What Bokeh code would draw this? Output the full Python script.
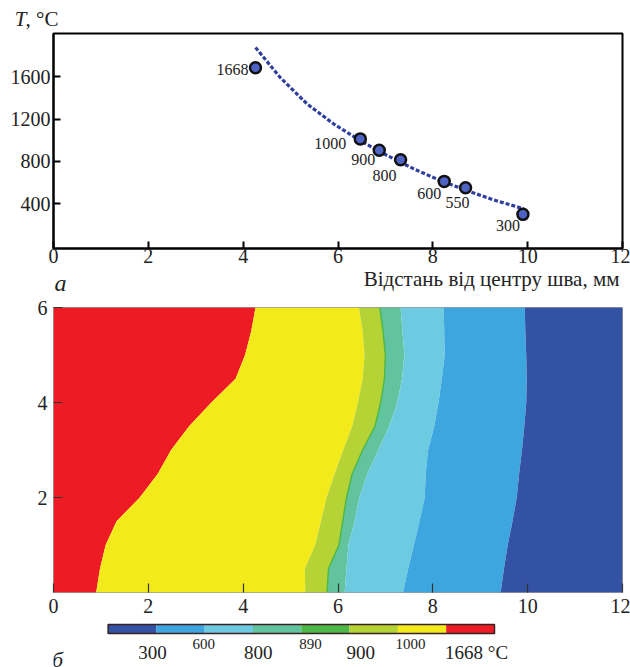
from bokeh.plotting import figure
from bokeh.layouts import column
from bokeh.models import Range1d, FixedTicker, ColumnDataSource, LinearAxis
from bokeh.core.properties import value
from bokeh.embed import file_html
from bokeh.resources import INLINE

SERIF = "Liberation Serif"

# ---------------- data (a): temperature vs distance ----------------
dist_mm = [4.26, 6.47, 6.87, 7.32, 8.24, 8.69, 9.90]
temp_c = [1685, 1012, 905, 815, 610, 550, 298]
point_labels = ["1668", "1000", "900", "800", "600", "550", "300"]
fit_x = [4.26, 4.78, 5.35, 5.91, 6.47, 7.04, 7.60, 8.16, 8.72, 9.28, 9.92]
fit_t = [1877, 1593, 1342, 1153, 995, 854, 728, 617, 523, 435, 350]
x_ticks_a = [0, 2, 4, 6, 8, 10, 12]
y_ticks_a = [400, 800, 1200, 1600]

# ---------------- data (б): isotherm boundaries (x, mm) at heights map_y ----------------
map_y = [0, 0.5, 1.0, 1.5, 2.0, 2.5, 3.0, 3.5, 4.0, 4.5, 5.0, 5.5, 6.0]
iso_1668 = [0.90, 0.98, 1.10, 1.33, 1.82, 2.20, 2.48, 2.86, 3.33, 3.84, 4.04, 4.17, 4.26]
iso_1000 = [5.31, 5.30, 5.52, 5.64, 5.76, 5.93, 6.11, 6.30, 6.42, 6.52, 6.56, 6.52, 6.44]
iso_900 = [5.77, 5.80, 6.02, 6.10, 6.18, 6.30, 6.52, 6.78, 6.90, 6.98, 7.00, 6.95, 6.88]
iso_800 = [6.14, 6.18, 6.22, 6.35, 6.45, 6.62, 6.85, 7.08, 7.25, 7.35, 7.40, 7.36, 7.32]
iso_600 = [7.37, 7.48, 7.60, 7.72, 7.83, 7.85, 7.90, 8.03, 8.12, 8.19, 8.25, 8.24, 8.23]
iso_300 = [9.43, 9.50, 9.58, 9.68, 9.77, 9.82, 9.88, 9.93, 9.97, 9.98, 9.97, 9.95, 9.94]
x_ticks_b = [0, 2, 4, 6, 8, 10, 12]
y_ticks_b = [2, 4, 6]

# ---------------- colour scale ----------------
scale_colors = ["#3452a4", "#3ea6df", "#6ccbe0", "#62c49e", "#4db848", "#b5d334", "#f2ea1a", "#ed1c24"]
scale_big = ["300", "800", "900", "1668 °C"]
scale_big_pos = [0.92, 3.11, 5.23, 7.63]
scale_small = ["600", "890", "1000"]
scale_small_pos = [1.98, 4.19, 6.26]

W = 630
INK = "#222222"
FL, FR = 53, 622          # frame edges shared by all rows of the column


def strip(h):
    """a text/annotation row whose x data equal page pixels (frame spans FL..FR)"""
    s = figure(width=W, height=h, x_range=Range1d(FL, FR), y_range=Range1d(h, 0),
               output_backend="svg", toolbar_location=None,
               x_axis_location=None, y_axis_location=None,
               min_border_left=FL, min_border_right=W - FR, min_border_top=0, min_border_bottom=0)
    s.xgrid.visible = False
    s.ygrid.visible = False
    s.outline_line_color = None
    return s


def txt(p, x, y, t, size, style="normal", align="center"):
    p.text(x=[x], y=[y], text=[t], text_font=value(SERIF), text_font_size=size,
           text_font_style=style, text_align=align, text_baseline="middle", text_color=INK)


def label_axis(p, y, text, size, style, standoff):
    ax = LinearAxis(ticker=FixedTicker(ticks=[y]), major_label_overrides={y: text},
                    axis_line_color=None, major_tick_line_color=None, minor_tick_line_color=None,
                    major_tick_in=0, major_tick_out=0, major_label_standoff=standoff,
                    major_label_text_font=SERIF, major_label_text_font_size=size,
                    major_label_text_font_style=style, major_label_text_color=INK)
    p.add_layout(ax, "left")


# ======================= header of (a): "T, °C" in the left margin =======================
HH = 32
hs = strip(HH)
label_axis(hs, 22, ", °C", "21px", "normal", -5)
label_axis(hs, 22, "T", "21px", "italic", -4)

# ======================= (a) =======================
pa = figure(width=W, height=238, x_range=Range1d(0, 12), y_range=Range1d(-25, 2009),
            output_backend="svg", toolbar_location=None,
            min_border_left=FL, min_border_right=W - FR, min_border_top=1, min_border_bottom=22)
pa.xgrid.visible = False
pa.ygrid.visible = False
pa.outline_line_color = "black"
pa.outline_line_width = 2

for ax in (pa.xaxis[0], pa.yaxis[0]):
    ax.axis_line_width = 2
    ax.axis_line_color = "black"
    ax.major_tick_line_width = 2
    ax.major_tick_line_color = "black"
    ax.major_tick_in = 7
    ax.major_tick_out = 0
    ax.minor_tick_line_color = None
    ax.major_label_text_font = SERIF
    ax.major_label_text_font_size = "20px"
    ax.major_label_text_color = INK
pa.xaxis[0].ticker = FixedTicker(ticks=x_ticks_a)
pa.xaxis[0].major_label_standoff = 0
pa.yaxis[0].ticker = FixedTicker(ticks=y_ticks_a)
pa.yaxis[0].major_label_standoff = 3

PXX = (FR - FL) / 12.0   # px per mm
UPY = 2034.0 / 215.0     # deg per px

pa.line(fit_x, fit_t, line_color="#2f3f9f", line_width=3.2, line_dash="4 2")
pa.scatter(dist_mm, temp_c, size=11, fill_color="#4f63c4", line_color="#111111", line_width=2.5)

lab_dx = [-23, -30, -16, -16, -15, -8, -15]
lab_dy = [2, 5, 9, 16, 12, 15, 11]
lsrc = ColumnDataSource(dict(
    x=[x + dx / PXX for x, dx in zip(dist_mm, lab_dx)],
    y=[t - dy * UPY for t, dy in zip(temp_c, lab_dy)],
    t=point_labels))
pa.text(x="x", y="y", text="t", source=lsrc, text_font=value(SERIF), text_font_size="16px",
        text_align="center", text_baseline="middle", text_color=INK)

# ======================= footer of (a) (page y 270..295) =======================
HF = 25
fs = strip(HF)
txt(fs, FR - 3, 8, "Відстань від центру шва, мм", "21px", align="right")
txt(fs, 60, 12, "a", "24px", style="italic")

# ======================= (б) =======================
pb = figure(width=W, height=327, x_range=Range1d(0, 12), y_range=Range1d(0, 6),
            output_backend="svg", toolbar_location=None,
            min_border_left=FL, min_border_right=W - FR, min_border_top=12, min_border_bottom=30)
pb.xgrid.visible = False
pb.ygrid.visible = False
pb.outline_line_color = "#9a9a9a"
pb.outline_line_width = 1

zeros = [0] * len(map_y)
twelves = [12] * len(map_y)
bands = [(zeros, iso_1668, scale_colors[7]),
         (iso_1668, iso_1000, scale_colors[6]),
         (iso_1000, iso_900, scale_colors[5]),
         (iso_900, iso_800, scale_colors[3]),
         (iso_800, iso_600, scale_colors[2]),
         (iso_600, iso_300, scale_colors[1]),
         (iso_300, twelves, scale_colors[0])]
for x1, x2, c in bands:
    pb.harea(x1=x1, x2=x2, y=map_y, fill_color=c)
pb.line(iso_900, map_y, line_color=scale_colors[4], line_width=1.5)

for ax in (pb.xaxis[0], pb.yaxis[0]):
    ax.axis_line_color = None
    ax.major_tick_line_color = "#333333"
    ax.major_tick_line_width = 1.2
    ax.major_tick_in = 9
    ax.major_tick_out = 0
    ax.minor_tick_line_color = None
    ax.major_label_text_font = SERIF
    ax.major_label_text_font_size = "20px"
    ax.major_label_text_color = INK
pb.xaxis[0].ticker = FixedTicker(ticks=x_ticks_b)
pb.xaxis[0].major_label_standoff = 6
pb.yaxis[0].ticker = FixedTicker(ticks=y_ticks_b)
pb.yaxis[0].major_label_standoff = 6

# ======================= colour scale (page y 622..667) =======================
HC = 45
pc = strip(HC)
SEG0, SEGW = 107.6, 48.3
idx = list(range(len(scale_colors)))
pc.quad(left=[SEG0 + i * SEGW for i in idx], right=[SEG0 + (i + 1) * SEGW for i in idx],
        top=2, bottom=11, fill_color=scale_colors, line_color=None)
pc.quad(left=SEG0, right=SEG0 + len(scale_colors) * SEGW, top=2, bottom=11, fill_color=None,
        line_color="#3a2020", line_width=1.5)
pc.text(x=[SEG0 + v * SEGW for v in scale_big_pos], y=[30] * len(scale_big), text=scale_big,
        text_font=value(SERIF), text_font_size="19px", text_align="center",
        text_baseline="middle", text_color=INK)
pc.text(x=[SEG0 + v * SEGW for v in scale_small_pos], y=[21] * len(scale_small), text=scale_small,
        text_font=value(SERIF), text_font_size="15px", text_align="center",
        text_baseline="middle", text_color=INK)
txt(pc, 57, 37, "б", "22px", style="italic")

layout = column(hs, pa, fs, pb, pc, spacing=0)
open("out.html", "w").write(file_html(layout, INLINE))
